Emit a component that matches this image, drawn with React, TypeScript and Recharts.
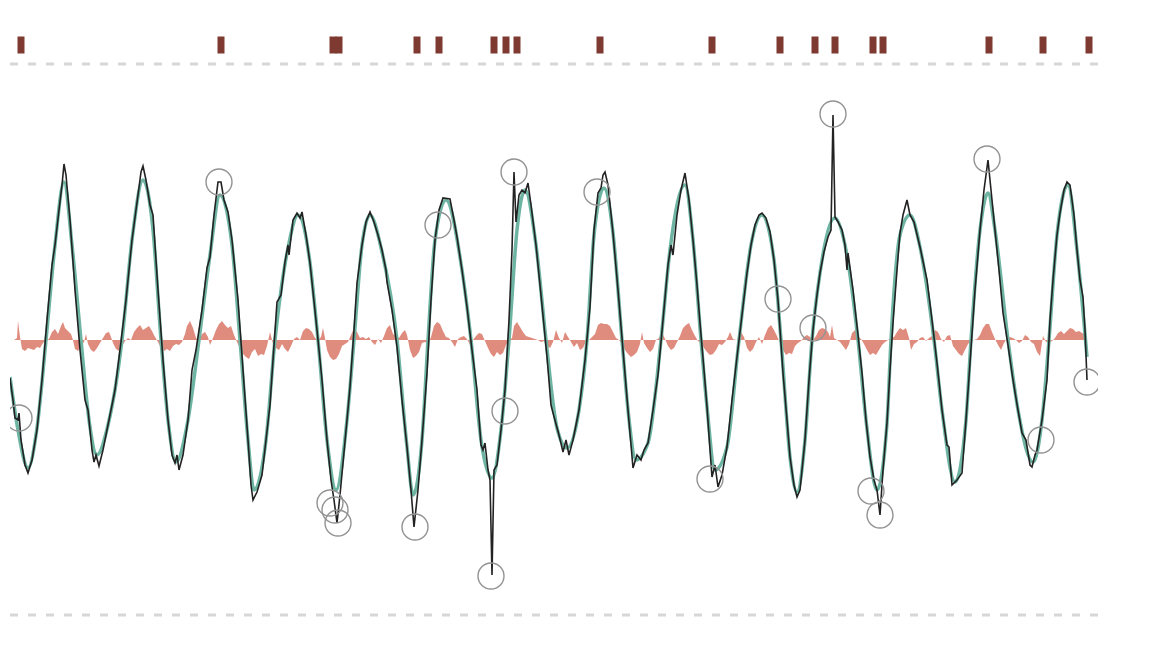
import { ComposedChart, Line, Area, Scatter, XAxis, YAxis, ReferenceLine } from "recharts";

const WIDTH = 1152;
const HEIGHT = 658;

// [time, value] readings of the raw sensor trace
const rawSignal: [number, number][] = [
  [0, -38], [3, -60], [5, -78], [8, -80], [9, -73], [11, -100], [15, -125], [18, -133], [22, -120], [27, -90],
  [32, -40], [37, 20], [42, 75], [45, 95], [49, 130], [52, 155], [54, 176], [56, 165], [60, 120], [65, 50],
  [70, -10], [75, -60], [78, -70], [79, -80], [82, -110], [84, -122], [86, -115], [89, -126], [93, -110], [98, -85],
  [105, -50], [110, -10], [116, 40], [122, 100], [128, 145], [131, 168], [133, 174], [136, 160], [140, 135], [143, 125],
  [148, 50], [153, -20], [158, -80], [162, -115], [165, -123], [167, -115], [169, -130], [173, -115], [178, -80], [182, -30],
  [186, -10], [192, 30], [197, 72], [200, 83], [204, 125], [208, 158], [211, 158], [214, 140], [218, 128], [222, 100],
  [228, 40], [233, -30], [238, -100], [241, -145], [243, -160], [247, -152], [252, -135], [256, -100], [260, -65], [263, -20],
  [267, 38], [271, 45], [275, 78], [278, 95], [279, 85], [283, 120], [287, 127], [290, 122], [292, 128], [296, 105],
  [300, 77], [307, 10], [312, -40], [317, -100], [321, -140], [324, -160], [327, -183], [330, -155], [333, -123], [337, -80],
  [340, -47], [344, 10], [347, 57], [352, 95], [356, 118], [360, 128], [364, 118], [368, 105], [372, 90], [376, 70],
  [377, 58], [382, 30], [387, -7], [392, -60], [397, -107], [401, -150], [404, -187], [408, -150], [412, -100], [417, -33],
  [421, 40], [425, 100], [429, 130], [433, 142], [440, 141], [444, 120], [447, 103], [452, 70], [457, 33], [462, -10],
  [467, -50], [471, -105], [473, -110], [475, -103], [478, -130], [480, -140], [482, -235], [484, -130], [487, -125], [491, -90],
  [495, -50], [499, 20], [502, 90], [504, 168], [506, 118], [509, 145], [512, 150], [515, 147], [518, 157], [521, 135],
  [526, 95], [531, 45], [537, -17], [541, -65], [543, -73], [549, -95], [553, -112], [556, -100], [559, -115], [563, -100],
  [569, -70], [575, -20], [580, 33], [584, 110], [588, 147], [591, 152], [593, 165], [595, 168], [598, 155], [603, 107],
  [608, 50], [613, -10], [618, -70], [623, -128], [627, -115], [631, -120], [634, -110], [638, -103], [643, -70], [648, -35],
  [653, 20], [658, 75], [661, 95], [663, 85], [667, 125], [671, 150], [675, 167], [679, 140], [683, 100], [687, 55],
  [690, 17], [694, -30], [697, -67], [700, -110], [702, -137], [705, -125], [708, -147], [712, -135], [717, -107], [722, -60],
  [727, -17], [732, 25], [737, 67], [741, 95], [745, 115], [749, 125], [752, 127], [756, 122], [760, 108], [764, 80],
  [768, 40], [773, -33], [777, -80], [780, -117], [784, -145], [787, -157], [790, -150], [795, -100], [799, -40], [803, 10],
  [807, 45], [810, 67], [814, 88], [818, 103], [821, 110], [823, 225], [825, 123], [828, 118], [832, 110], [835, 95],
  [837, 70], [838, 87], [843, 50], [848, 5], [852, -33], [856, -80], [860, -117], [864, -140], [867, -150], [870, -175],
  [873, -130], [877, -83], [880, -30], [883, 17], [887, 70], [890, 107], [893, 125], [897, 140], [900, 125], [904, 118],
  [910, 93], [917, 60], [922, 20], [927, -23], [932, -70], [937, -105], [939, -107], [942, -145], [947, -140], [952, -133],
  [956, -80], [960, -23], [965, 50], [970, 110], [974, 150], [978, 180], [981, 150], [985, 110], [989, 70], [993, 27],
  [998, -5], [1003, -40], [1008, -70], [1012, -93], [1016, -100], [1020, -125], [1022, -127], [1025, -115], [1027, -110], [1032, -80],
  [1037, -40], [1040, 20], [1043, 60], [1047, 105], [1050, 127], [1054, 150], [1057, 158], [1060, 155], [1064, 125], [1067, 90],
  [1070, 60], [1073, 43], [1075, 10], [1077, -40],
];

// smoothed fit (spikes and notches removed)
const smoothSignal: [number, number][] = [
  [0, -37], [8, -90], [18, -128], [27, -88], [36, 0], [45, 95], [54, 158], [62, 95], [71, 0], [79, -80],
  [87, -115], [98, -85], [112, 0], [122, 100], [133, 160], [143, 110], [151, 0], [158, -80], [166, -122], [178, -80],
  [189, 0], [200, 85], [210, 145], [222, 95], [230, 0], [238, -100], [244, -150], [256, -100], [265, 0], [278, 92],
  [288, 125], [300, 77], [308, 0], [317, -100], [326, -150], [337, -80], [344, 0], [352, 95], [360, 125], [372, 88],
  [387, 0], [397, -107], [403, -155], [412, -100], [418, 0], [425, 100], [436, 140], [452, 70], [461, 0], [471, -100],
  [482, -138], [491, -90], [499, 0], [507, 110], [515, 150], [526, 95], [536, 0], [547, -88], [557, -108], [569, -70],
  [577, 0], [584, 105], [594, 152], [603, 107], [612, 0], [618, -70], [626, -120], [638, -103], [651, 0], [660, 90],
  [675, 155], [683, 100], [691, 0], [697, -67], [705, -130], [717, -107], [729, 0], [741, 95], [752, 125], [764, 80],
  [771, 0], [780, -117], [787, -152], [795, -100], [802, 0], [810, 67], [825, 122], [835, 95], [848, 0], [856, -80],
  [867, -150], [877, -83], [881, 0], [890, 105], [900, 125], [910, 93], [924, 0], [932, -70], [945, -142], [956, -80],
  [961, 0], [970, 110], [978, 147], [985, 110], [998, 0], [1008, -70], [1023, -122], [1032, -80], [1039, 0], [1047, 105],
  [1058, 155], [1067, 90], [1077, -17],
];

// residual = raw - smooth
const residual: [number, number][] = [
  [0, 0], [4, 0], [7, 2], [8, 19], [10, 3], [12, -9], [15, -11], [18, -8], [21, -9], [24, -10], [27, -7], [30, -8],
  [33, -3], [36, 0], [39, 1], [42, 8], [45, 11], [48, 6], [51, 14], [53, 18], [55, 12], [58, 9], [61, 6], [63, 0],
  [65, -9], [68, -11], [71, -6], [74, -2], [76, 6], [78, -4], [81, -10], [84, -12], [87, -8], [90, -3], [93, 2], [96, 7],
  [99, 8], [101, 3], [103, -3], [106, -9], [109, -11], [112, -6], [115, -1], [118, 2], [121, 0], [124, 8], [127, 12], [130, 15],
  [133, 10], [136, 12], [139, 14], [142, 9], [145, 3], [148, -2], [151, -8], [154, -11], [157, -9], [160, -11], [163, -6], [166, -4],
  [169, -5], [172, -2], [175, 6], [177, 14], [180, 19], [183, 12], [186, 2], [189, -1], [192, 6], [195, 8], [198, 3], [200, -5],
  [203, 2], [206, 10], [209, 16], [212, 19], [215, 15], [218, 12], [221, 14], [224, 5], [227, -2], [230, -8], [233, -14], [236, -17],
  [239, -19], [242, -12], [245, -9], [248, -16], [251, -14], [254, -15], [257, -6], [260, 8], [263, -4], [266, -8], [269, -10], [272, -4],
  [275, -9], [278, -12], [281, -6], [284, 1], [287, 3], [290, 0], [293, 9], [296, 12], [299, 11], [302, 8], [305, 2], [308, 0],
  [311, 3], [313, 12], [315, 2], [317, -10], [320, -17], [323, -20], [326, -19], [329, -14], [332, -6], [335, -4], [338, -2], [341, 5],
  [344, 12], [347, 8], [350, 2], [353, 3], [356, 1], [359, 3], [362, -2], [365, -5], [368, 1], [371, -3], [374, 4], [377, 12],
  [380, 15], [383, 6], [386, 4], [389, 2], [392, 7], [395, 10], [397, 5], [400, -10], [403, -18], [406, -16], [409, -12], [412, -3],
  [415, -2], [418, -4], [421, 3], [424, 14], [427, 18], [430, 16], [433, 9], [436, 3], [439, 2], [442, -2], [445, -7], [448, 1],
  [451, 3], [454, 4], [457, 1], [460, -5], [463, 0], [466, 4], [469, 7], [472, 6], [475, -1], [478, -8], [481, -14], [484, -17],
  [487, -12], [490, -15], [493, -13], [496, -5], [499, 0], [502, 2], [504, 14], [507, 18], [510, 13], [513, 8], [516, 4], [519, 3],
  [522, 2], [525, 1], [528, 0], [531, -2], [534, -1], [537, -6], [540, -8], [543, -2], [546, 10], [549, 2], [552, -3], [555, 8],
  [558, 3], [561, -2], [564, -7], [567, -3], [570, -10], [573, -8], [576, -1], [579, 0], [582, 3], [585, 6], [588, 15], [591, 17],
  [594, 16], [597, 16], [600, 14], [603, 8], [606, 2], [609, 0], [612, -4], [615, -10], [618, -14], [621, -17], [624, -15], [627, -12],
  [630, -4], [632, 8], [634, -3], [637, -8], [640, -12], [643, -9], [646, 0], [649, 2], [652, 8], [655, 1], [658, -6], [661, -10],
  [664, -8], [667, -2], [670, 4], [673, 12], [676, 15], [679, 17], [682, 10], [685, 4], [688, -1], [691, -3], [694, -8], [697, -12],
  [700, -15], [703, -14], [706, -10], [709, -4], [712, -5], [715, -2], [718, 3], [720, 8], [723, 1], [726, 0], [729, 1], [731, 8],
  [734, 3], [737, -8], [740, -12], [743, -9], [746, -2], [749, 3], [752, -4], [755, 5], [758, 12], [761, 15], [764, 10], [767, 4],
  [770, -3], [773, -10], [776, -15], [779, -13], [782, -14], [785, -6], [788, -3], [791, -1], [794, 3], [797, 5], [800, 3], [803, 0],
  [806, 4], [809, 10], [812, 12], [815, 11], [818, 8], [820, 3], [822, 15], [824, 2], [827, 0], [830, -2], [833, -6], [836, -10],
  [839, -4], [842, 7], [845, 10], [848, 4], [851, 1], [854, -4], [857, -10], [860, -15], [863, -13], [866, -15], [869, -10], [872, -5],
  [875, -2], [878, 0], [881, 2], [884, 3], [887, 8], [890, 12], [893, 10], [896, 12], [899, 2], [901, -10], [904, -4], [907, -2],
  [910, 2], [913, 3], [916, -1], [919, 2], [922, 4], [925, 10], [928, 8], [931, 1], [934, -2], [937, 4], [940, 5], [943, -6],
  [946, -10], [949, -14], [952, -16], [955, -10], [958, -4], [961, -1], [964, 0], [967, 1], [970, 5], [973, 12], [976, 16], [979, 16],
  [982, 8], [985, 1], [988, -5], [991, -10], [994, -3], [997, 2], [1000, 3], [1003, 2], [1006, 0], [1009, -3], [1012, -1], [1015, 5],
  [1018, 3], [1021, -2], [1024, -4], [1027, -12], [1030, -16], [1033, 4], [1036, -2], [1039, -3], [1042, -1], [1045, 2], [1048, 7], [1051, 9],
  [1054, 6], [1057, 9], [1060, 12], [1063, 11], [1066, 8], [1069, 9], [1072, 7], [1075, 6], [1076, 0],
];

// flagged anomalies [time, value]
const anomalies: [number, number][] = [
  [9, -78], [209, 158], [320, -163], [325, -170], [328, -183], [405, -187], [428, 115], [481, -236], [495, -71], [504, 168],
  [587, 148], [700, -139], [768, 41], [803, 12], [823, 226], [861, -151], [870, -175], [977, 181], [1031, -100], [1077, -42],
];

// event markers along the top
const eventTimes = [11, 211, 323, 329, 407, 429, 484, 496, 507, 590, 702, 770, 805, 825, 863, 873, 979, 1033, 1079];
const EVENT_LEVEL = 295;
const BAND_TOP = 276;
const BAND_BOTTOM = -275;

const toRows = (pts: [number, number][]) => pts.map(([t, v]) => ({ t, v }));

const rawRows = toRows(rawSignal);
const smoothRows = toRows(smoothSignal);
const residualRows = toRows(residual);
const anomalyRows = toRows(anomalies);
const eventRows = eventTimes.map((t) => ({ t, v: EVENT_LEVEL }));

const Ring = (p: any) => (
  <circle cx={p.cx} cy={p.cy} r={13} fill="none" stroke="#939393" strokeWidth={1.4} />
);

const Tick = (p: any) => (
  <rect x={p.cx - 3.5} y={p.cy - 8.5} width={7} height={17} fill="#7e3a30" />
);

export default function App() {
  return (
    <div style={{ position: "absolute", left: 0, top: 0, background: "#fff" }}>
      <ComposedChart width={WIDTH} height={HEIGHT} margin={{ top: 0, right: 54, bottom: 0, left: 10 }}>
        <XAxis type="number" dataKey="t" domain={[0, 1088]} hide allowDataOverflow />
        <YAxis type="number" domain={[-318, 340]} hide allowDataOverflow />
        <ReferenceLine y={BAND_TOP} stroke="#d7d7d7" strokeWidth={3} strokeDasharray="8 10" />
        <ReferenceLine y={BAND_BOTTOM} stroke="#d7d7d7" strokeWidth={3} strokeDasharray="8 10" />

        <Area
          data={residualRows}
          dataKey="v"
          type="linear"
          baseValue={0}
          fill="#df8b7e"
          fillOpacity={1}
          stroke="none"
          isAnimationActive={false}
        />

        <Line
          data={smoothRows}
          dataKey="v"
          type="monotone"
          stroke="#6db4a2"
          strokeWidth={3.5}
          dot={false}
          isAnimationActive={false}
        />

        <Line
          data={rawRows}
          dataKey="v"
          type="linear"
          stroke="#222"
          strokeWidth={1.6}
          dot={false}
          isAnimationActive={false}
        />

        <Scatter data={anomalyRows} dataKey="v" shape={Ring} isAnimationActive={false} />
        <Scatter data={eventRows} dataKey="v" shape={Tick} isAnimationActive={false} />
      </ComposedChart>
    </div>
  );
}
